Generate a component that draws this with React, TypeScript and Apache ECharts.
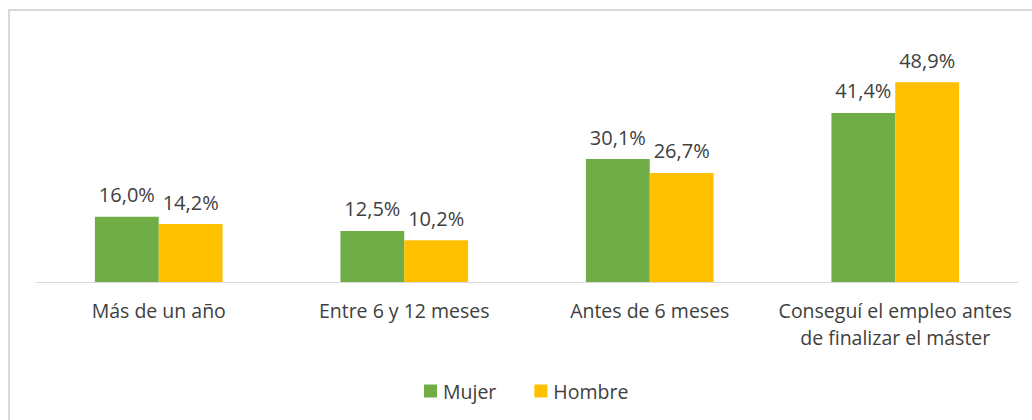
import React, { useEffect, useRef } from "react";
import * as echarts from "echarts";

const categories = [
  "Más de un año",
  "Entre 6 y 12 meses",
  "Antes de 6 meses",
  "Conseguí el empleo antes\nde finalizar el máster",
];
const mujer = [16.0, 12.5, 30.1, 41.4];
const hombre = [14.2, 10.2, 26.7, 48.9];
const seriesNames = ["Mujer", "Hombre"];

const FONT = "'Open Sans', 'Noto Sans', sans-serif";
const TEXT = "#404040";

export default function App() {
  const ref = useRef<HTMLDivElement>(null);
  useEffect(() => {
    if (!ref.current) return;
    const chart = echarts.init(ref.current, undefined, { renderer: "svg" });
    const label = {
      show: true,
      position: "top",
      distance: 12,
      color: TEXT,
      fontSize: 20,
      fontFamily: FONT,
      formatter: (p: any) => p.value.toFixed(1).replace(".", ",") + "%",
    };
    chart.setOption({
      animation: false,
      backgroundColor: "#ffffff",
      graphic: [
        {
          type: "rect",
          shape: { x: 9, y: 10, width: 1040, height: 430 },
          style: { fill: "none", stroke: "#d9d9d9", lineWidth: 2 },
          silent: true,
        },
      ],
      grid: { left: 36, right: 14, top: 37, bottom: 138, containLabel: false },
      legend: {
        data: seriesNames,
        bottom: 14,
        left: 419,
        itemWidth: 13,
        itemHeight: 13,
        itemGap: 38,
        icon: "rect",
        textStyle: { color: TEXT, fontSize: 19.5, fontFamily: FONT, padding: [0, 0, 0, 1] },
      },
      xAxis: {
        type: "category",
        data: categories,
        axisLine: { lineStyle: { color: "#d9d9d9", width: 1 } },
        axisTick: { show: false },
        axisLabel: {
          color: TEXT,
          fontSize: 19.5,
          fontFamily: FONT,
          lineHeight: 27,
          margin: 15,
          interval: 0,
        },
      },
      yAxis: {
        type: "value",
        min: 0,
        max: 60,
        show: false,
        splitLine: { show: false },
      },
      series: [
        {
          name: seriesNames[0],
          type: "bar",
          data: mujer,
          itemStyle: { color: "#70ad47" },
          barGap: "0%",
          barCategoryGap: "48%",
          label,
        },
        {
          name: seriesNames[1],
          type: "bar",
          data: hombre,
          itemStyle: { color: "#ffc000" },
          label,
        },
      ],
    });
    return () => chart.dispose();
  }, []);
  return (
    <div
      ref={ref}
      style={{ position: "absolute", left: 0, top: 0, width: 1032, height: 420 }}
    />
  );
}
